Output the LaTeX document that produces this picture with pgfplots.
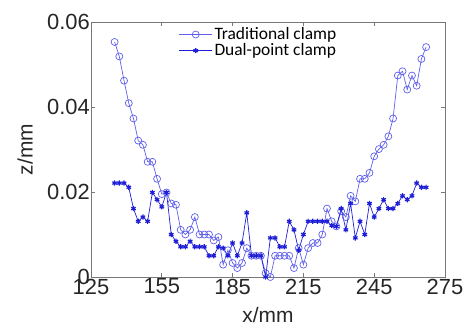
\documentclass[border=0pt]{standalone}
\usepackage{pgfplots}
\pgfplotsset{compat=1.18}
\usepackage{fontspec}
\setmainfont{Liberation Sans}
\newfontfamily\carlito{Carlito}
\definecolor{tradc}{RGB}{95,95,235}
\definecolor{dualc}{RGB}{30,30,215}
\definecolor{framec}{RGB}{120,120,120}
\begin{document}
\begin{tikzpicture}
\useasboundingbox (-91bp,-48bp) rectangle (376bp,277bp);
\begin{axis}[
  at={(0,0)}, anchor=south west,
  scale only axis, width=354bp, height=255bp,
  xmin=125, xmax=275, ymin=0, ymax=0.06,
  scaled y ticks=false,
  xtick={125,155,185,215,245,275},
  xticklabels={125,155,185,215,245,275},
  ytick={0,0.02,0.04,0.06},
  yticklabels={0,0.02,0.04,0.06},
  tick align=inside, major tick length=4bp,
  axis line style={framec, line width=0.8bp},
  every tick/.style={framec, line width=0.6bp},
  tick label style={font=\fontsize{22}{24}\selectfont, text=black!85},
  yticklabel style={inner sep=1bp},
  xticklabel style={inner sep=1.5bp},
  label style={font=\fontsize{21}{23}\selectfont, text=black!85},
  xlabel={x/mm}, ylabel={z/mm},
  xlabel style={at={(axis description cs:0.5,-0.12)}, anchor=north, inner sep=0pt},
  ylabel style={at={(axis description cs:-0.186,0.5)}, anchor=center, rotate=0},
  legend style={draw=none, fill=none, at={(axis description cs:0.245,0.99)}, anchor=north west,
    font=\carlito\fontsize{17.5}{18}\selectfont, row sep=-1.5bp, inner sep=1bp},
  legend cell align=left,
  legend image code/.code={\draw[mark repeat=2,mark phase=2,#1] plot coordinates {(0cm,0cm) (0.58cm,0cm) (1.16cm,0cm)};},
]
\addplot[color=tradc, line width=0.7bp, mark=o, mark size=3.5bp, mark options={line width=0.7bp}] coordinates {
(135,0.0553)(137,0.0519)(139,0.0462)(141,0.0409)(143,0.0373)(145,0.0321)(147,0.0311)(149,0.0271)(151,0.0271)(153,0.0231)
(155,0.0195)(157,0.0199)(159,0.0173)(161,0.0170)(163,0.0111)(165,0.0100)(167,0.0111)(169,0.0141)(171,0.0100)(173,0.0100)
(175,0.0100)(177,0.0086)(179,0.0094)(181,0.0029)(183,0.0063)(185,0.0033)(187,0.0021)(189,0.0033)(191,0.0068)(193,0.0050)
(195,0.0050)(197,0.0050)(199,0.0009)(201,0.0000)(203,0.0050)(205,0.0050)(207,0.0050)(209,0.0050)(211,0.0021)(213,0.0068)
(215,0.0029)(217,0.0068)(219,0.0080)(221,0.0080)(223,0.0100)(225,0.0161)(227,0.0131)(229,0.0119)(231,0.0155)(233,0.0141)
(235,0.0191)(237,0.0178)(239,0.0231)(241,0.0231)(243,0.0245)(245,0.0284)(247,0.0301)(249,0.0311)(251,0.0331)(253,0.0373)
(255,0.0474)(257,0.0484)(259,0.0441)(261,0.0474)(263,0.0450)(265,0.0513)(267,0.0541)
};
\addlegendentry{Traditional clamp}
\addplot[color=dualc, line width=0.7bp, mark=asterisk, mark size=2.6bp, mark options={line width=1.2bp}] coordinates {
(135,0.0221)(137,0.0221)(139,0.0221)(141,0.0211)(143,0.0161)(145,0.0131)(147,0.0141)(149,0.0131)(151,0.0199)(153,0.0182)
(155,0.0165)(157,0.0199)(159,0.0100)(161,0.0084)(163,0.0071)(165,0.0071)(167,0.0084)(169,0.0071)(171,0.0071)(173,0.0071)
(175,0.0050)(177,0.0050)(179,0.0071)(181,0.0068)(183,0.0050)(185,0.0080)(187,0.0050)(189,0.0080)(191,0.0151)(193,0.0050)
(195,0.0050)(197,0.0050)(199,0.0000)(201,0.0092)(203,0.0092)(205,0.0071)(207,0.0071)(209,0.0131)(211,0.0111)(213,0.0063)
(215,0.0100)(217,0.0131)(219,0.0131)(221,0.0131)(223,0.0131)(225,0.0131)(227,0.0121)(229,0.0119)(231,0.0161)(233,0.0111)
(235,0.0173)(237,0.0092)(239,0.0131)(241,0.0100)(243,0.0173)(245,0.0141)(247,0.0161)(249,0.0182)(251,0.0161)(253,0.0161)
(255,0.0173)(257,0.0191)(259,0.0182)(261,0.0191)(263,0.0221)(265,0.0211)(267,0.0211)
};
\addlegendentry{Dual-point clamp}
\end{axis}
\end{tikzpicture}
\end{document}
